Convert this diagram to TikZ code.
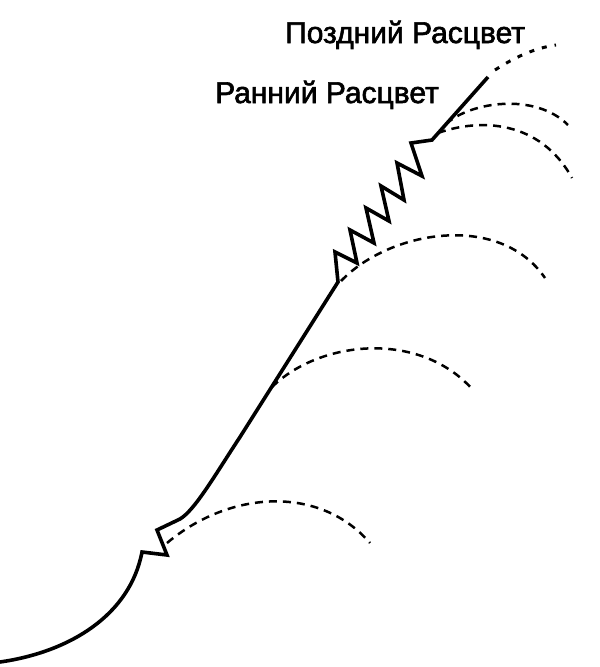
\documentclass[tikz,border=0pt]{standalone}
\usepackage{fontspec}
\setmainfont{Liberation Sans}
\newfontfamily\lblfont[FakeBold=2]{Liberation Sans}
\begin{document}
\begin{tikzpicture}[x=1pt,y=-1pt,
  growth/.style={line width=3.6pt, line join=miter, line cap=butt},
  branch/.style={line width=2.5pt, dash pattern=on 8pt off 6pt},
  late/.style={line width=3pt, dash pattern=on 5pt off 8pt},
  lbl/.style={font=\lblfont\fontsize{30}{36}\selectfont, inner sep=0pt, anchor=base west}]
\useasboundingbox (0,0) rectangle (600,667);
\fill[white] (0,0) rectangle (600,667);

% key points of the growth line
\coordinate (s0) at (0,662);
\coordinate (k1) at (142,552);
\coordinate (k2) at (167,555);
\coordinate (k3) at (157,530);
\coordinate (k4) at (180,519);
\coordinate (m1) at (240,437);
\coordinate (b2) at (272,387);
\coordinate (z0) at (338,282);
\coordinate (z1) at (432,140);
\coordinate (top) at (488,77);

% growth line
\draw[growth] (s0) .. controls (70,652) and (130,615) .. (k1)
  -- (k2) -- (k3) -- (k4)
  .. controls (195,510) and (215,475) .. (m1)
  -- (z0)
  -- (335,252) -- (357,263)
  -- (350,230) -- (374,243)
  -- (366,208) -- (389,221)
  -- (381,186) -- (404,200)
  -- (397,163) -- (422,176)
  -- (411,143) -- (z1)
  -- (top);

% late bloom continuation
\draw[late] (495,70) .. controls (515,57) and (535,48) .. (556,45);

% branches (dashed)
\draw[branch] (167,543) .. controls (230,490) and (320,485) .. (370,543);
\draw[branch] (b2) .. controls (320,340) and (420,330) .. (473,390);
\draw[branch] (341,281) .. controls (390,230) and (500,212) .. (545,278);
\draw[branch] (446,124) .. controls (470,102) and (535,92) .. (568,125);
\draw[branch] (438,133) .. controls (480,118) and (540,120) .. (572,178);

% labels
\node[lbl] (late) at (285,43) {Поздний Расцвет};
\node[lbl] (early) at (215,103) {Ранний Расцвет};
\end{tikzpicture}
\end{document}
